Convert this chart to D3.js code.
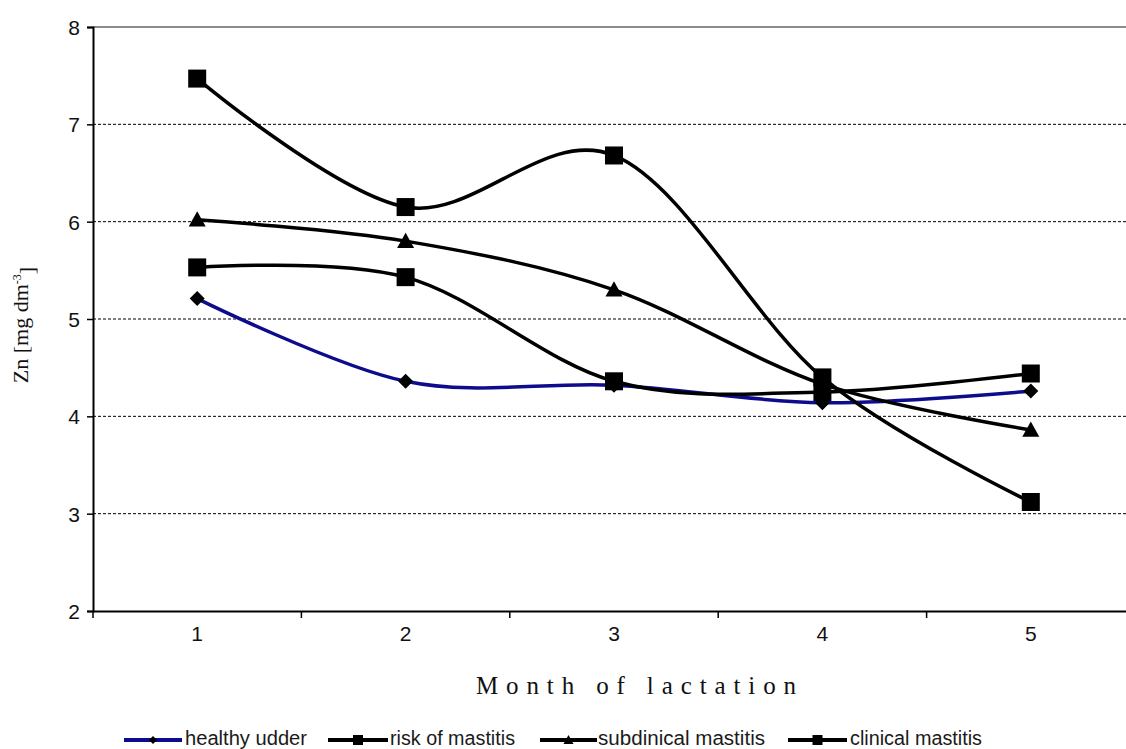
<!DOCTYPE html>
<html>
<head>
<meta charset="utf-8">
<script src="https://cdn.jsdelivr.net/npm/d3@7"></script>
<style>
  html, body { margin: 0; padding: 0; background: #fff; }
  svg { display: block; }
</style>
</head>
<body>
<svg id="chart" width="1126" height="749"></svg>
<script>
const months = ["1", "2", "3", "4", "5"];
const yTicks = [2, 3, 4, 5, 6, 7, 8];
const seriesNames = ["healthy udder", "risk of mastitis", "subclinical mastitis", "clinical mastitis"];
const legendLabels = ["healthy udder", "risk of mastitis", "subdinical mastitis", "clinical mastitis"];
const healthy = [5.21, 4.36, 4.32, 4.14, 4.26];
const risk = [5.53, 5.43, 4.36, 4.25, 4.44];
const subclinical = [6.02, 5.80, 5.30, 4.33, 3.86];
const clinical = [7.47, 6.15, 6.68, 4.40, 3.12];

const seriesData = [healthy, risk, subclinical, clinical];
const colors = ["#0c0c8c", "#000", "#000", "#000"];
const markers = ["diamond", "square", "triangle", "square"];

(function () {
const svg = d3.select("#chart");
const plotLeft = 93, plotTop = 27, plotBottom = 611, bandW = 208.4;

const x = d3.scaleBand().domain(months).range([plotLeft, plotLeft + bandW * months.length]).padding(0);
const y = d3.scaleLinear().domain([2, 8]).range([plotBottom, plotTop]);
const cx = m => x(m) + x.bandwidth() / 2;

// gridlines
svg.append("g").selectAll("line").data(yTicks.filter(t => t > 2 && t < 8)).join("line")
  .attr("x1", plotLeft).attr("x2", 1126)
  .attr("y1", d => y(d)).attr("y2", d => y(d))
  .attr("stroke", "#000").attr("stroke-width", 1).attr("stroke-dasharray", "3,2");

// top border of plot area
svg.append("line").attr("x1", plotLeft).attr("x2", 1126).attr("y1", y(8)).attr("y2", y(8))
  .attr("stroke", "#8c8c8c").attr("stroke-width", 2);

// y axis
const yAxis = d3.axisLeft(y).tickValues(yTicks).tickSize(6).tickFormat(d3.format("d"));
const gy = svg.append("g").attr("transform", `translate(${plotLeft},0)`).call(yAxis);
gy.select(".domain").attr("stroke", "#000").attr("stroke-width", 2);
gy.selectAll(".tick line").attr("stroke", "#000").attr("stroke-width", 1.5);
gy.selectAll(".tick text").attr("x", -13).attr("dy", "0.35em")
  .style("font-family", "'Liberation Sans', Arial, sans-serif").style("font-size", "21px").attr("fill", "#111");

// x axis
const xAxis = d3.axisBottom(x).tickSize(0).tickFormat(d => d);
const gx = svg.append("g").attr("transform", `translate(0,${plotBottom})`).call(xAxis);
gx.select(".domain").attr("stroke", "#000").attr("stroke-width", 2);
gx.selectAll(".tick text").attr("y", 30).attr("dy", "0")
  .style("font-family", "'Liberation Sans', Arial, sans-serif").style("font-size", "21px").attr("fill", "#111");
// boundary ticks between categories
const boundaries = d3.range(months.length + 1).map(i => plotLeft + i * x.bandwidth());
svg.append("g").selectAll("line").data(boundaries).join("line")
  .attr("x1", d => d).attr("x2", d => d).attr("y1", plotBottom).attr("y2", plotBottom + 7)
  .attr("stroke", "#000").attr("stroke-width", 1.5);

// axis titles
svg.append("text")
  .attr("x", 636).attr("y", 694).attr("text-anchor", "middle")
  .attr("textLength", 320).attr("lengthAdjust", "spacing")
  .style("font-family", "'Liberation Serif', 'DejaVu Serif', serif").style("font-size", "25px").attr("fill", "#111")
  .text("Month of lactation");

const yt = svg.append("text")
  .attr("transform", "translate(28,325) rotate(-90)").attr("text-anchor", "middle")
  .style("font-family", "'Liberation Serif', 'DejaVu Serif', serif").style("font-size", "22px").attr("fill", "#111");
yt.append("tspan").text("Zn [mg dm");
yt.append("tspan").attr("dy", "-0.55em").style("font-size", "12px").text("-3");
yt.append("tspan").attr("dy", "0.55em").text("]");

// lines
const line = d3.line().x((d, i) => cx(months[i])).y(d => y(d)).curve(d3.curveCardinal.tension(0));
seriesData.forEach((s, k) => {
  svg.append("path").datum(s).attr("d", line)
    .attr("fill", "none").attr("stroke", colors[k]).attr("stroke-width", 3.5)
    .attr("stroke-linejoin", "round");
});

function markerPath(type, size) {
  const h = size / 2;
  if (type === "square") return `M${-h},${-h}H${h}V${h}H${-h}Z`;
  if (type === "diamond") return `M0,${-h}L${h},0L0,${h}L${-h},0Z`;
  if (type === "triangle") return `M0,${-h}L${h},${h * 0.8}L${-h},${h * 0.8}Z`;
}
const markerSize = { square: 18, diamond: 15, triangle: 17 };

seriesData.forEach((s, k) => {
  svg.append("g").selectAll("path").data(s).join("path")
    .attr("transform", (d, i) => `translate(${cx(months[i])},${y(d)})`)
    .attr("d", markerPath(markers[k], markerSize[markers[k]]))
    .attr("fill", "#000");
});

// legend
const legendItems = [
  { x1: 124, x2: 182, tx: 185, tw: 122 },
  { x1: 328, x2: 388, tx: 390, tw: 125 },
  { x1: 540, x2: 597, tx: 598, tw: 167 },
  { x1: 788, x2: 847, tx: 850, tw: 132 }
];
const ly = 740;
const lg = svg.append("g");
legendItems.forEach((it, k) => {
  lg.append("line").attr("x1", it.x1).attr("x2", it.x2).attr("y1", ly).attr("y2", ly)
    .attr("stroke", colors[k]).attr("stroke-width", 4);
  lg.append("path").attr("transform", `translate(${(it.x1 + it.x2) / 2},${ly})`)
    .attr("d", markerPath(markers[k], markers[k] === "diamond" ? 8 : 10)).attr("fill", "#000");
  lg.append("text").attr("x", it.tx).attr("y", ly + 5)
    .attr("textLength", it.tw).attr("lengthAdjust", "spacingAndGlyphs")
    .style("font-family", "'Liberation Sans Narrow', 'Liberation Sans', Arial, sans-serif")
    .style("font-size", "20px").attr("fill", "#1a1a1a")
    .text(legendLabels[k]);
});
})();
</script>
</body>
</html>
